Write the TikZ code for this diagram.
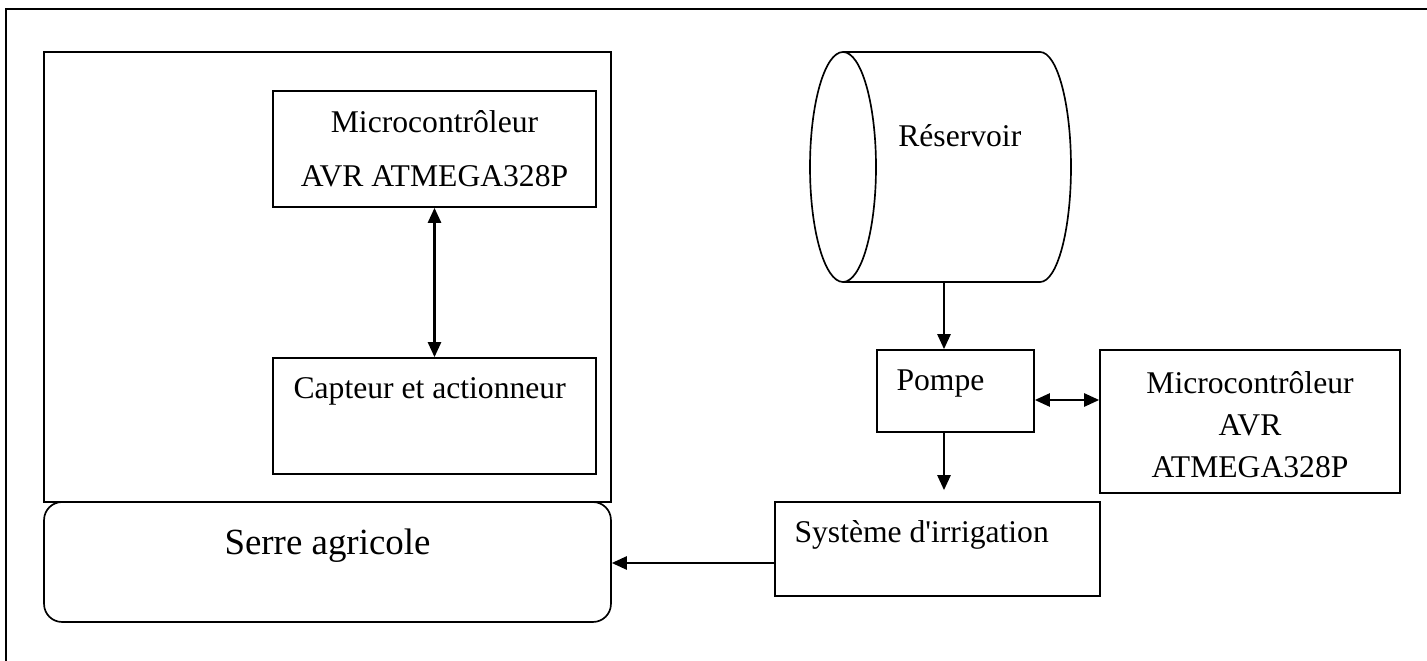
\documentclass[tikz,border=0pt]{standalone}
\usepackage{fontspec}
\setmainfont{Liberation Serif}
\usepackage{tikz}
\usetikzlibrary{arrows.meta, positioning, calc}

\begin{document}
\begin{tikzpicture}[
  x=0.02cm, y=-0.02cm,
  box/.style={rectangle, draw, line width=0.95pt, inner sep=0pt},
  roundbox/.style={box, rounded corners=0.36cm},
  txt/.style={inner sep=0pt, font=\fontsize{18}{24}\selectfont, align=center},
  arrow/.style={-{Triangle[length=0.3cm, width=0.26cm]}, line width=1.4pt},
  dblarrow/.style={{Triangle[length=0.3cm, width=0.26cm]}-{Triangle[length=0.3cm, width=0.26cm]}, line width=1.4pt},
]
\useasboundingbox (0,0) rectangle (1427,661);

% Frame
\draw[line width=1pt] (6,700) -- (6,9) -- (1460,9);

% Greenhouse side
\node[box, minimum width=11.34cm, minimum height=9cm] (greenhouse) at (327.5,277) {};
\node[box, minimum width=6.46cm, minimum height=2.32cm] (mcuin) at (434.5,149) {};
\node[txt, font=\fontsize{18}{31}\selectfont] (mcuintxt) at (mcuin.center) {Microcontrôleur\\AVR ATMEGA328P};
\node[box, minimum width=6.46cm, minimum height=2.32cm] (sensor) at (434.5,416) {};
\node[txt, anchor=west] (sensortxt) at ($(sensor.north west)+(21,34)$) {Capteur et actionneur};
\node[roundbox, minimum width=11.34cm, minimum height=2.4cm] (serre) at (327.5,562) {};
\node[txt, font=\fontsize{21}{26}\selectfont] (serretxt) at ($(serre.north)+(0,45)$) {Serre agricole};

\draw[dblarrow] (mcuin.south) -- (sensor.north);

% Water side
\draw[line width=0.95pt] (843,52) -- (1040,52) arc[start angle=-90, end angle=90, x radius=31, y radius=115] -- (843,282);
\draw[line width=0.95pt] (843,167) ellipse[x radius=33, y radius=115];
\node[txt, anchor=west] (tank) at (898,136) {Réservoir};
\coordinate (tankout) at (944,282);

\node[box, minimum width=3.14cm, minimum height=1.64cm] (pump) at (955.5,391) {};
\node[txt, anchor=west] (pumptxt) at ($(pump.north west)+(20,34)$) {Pompe};
\node[box, minimum width=6cm, minimum height=2.86cm] (mcuout) at (1250,421.5) {};
\node[txt] (mcuouttxt) at ($(mcuout.center)+(0,3)$) {Microcontrôleur\\AVR\\ATMEGA328P};
\node[box, minimum width=6.5cm, minimum height=1.88cm] (irrig) at (937.5,549) {};
\node[txt, anchor=west] (irrigtxt) at ($(irrig.north west)+(20,34)$) {Système d\textquotesingle irrigation};

\coordinate (pm) at ($(pump.east)+(0,9)$);
\coordinate (ir) at ($(irrig.west)+(0,14)$);

\draw[arrow] (tankout) -- (tankout |- pump.north);
\draw[arrow, shorten >=0.22cm] (tankout |- pump.south) -- (tankout |- irrig.north);
\draw[dblarrow] (pm) -- (pm -| mcuout.west);
\draw[arrow] (ir) -- (ir -| serre.east);

\end{tikzpicture}
\end{document}
